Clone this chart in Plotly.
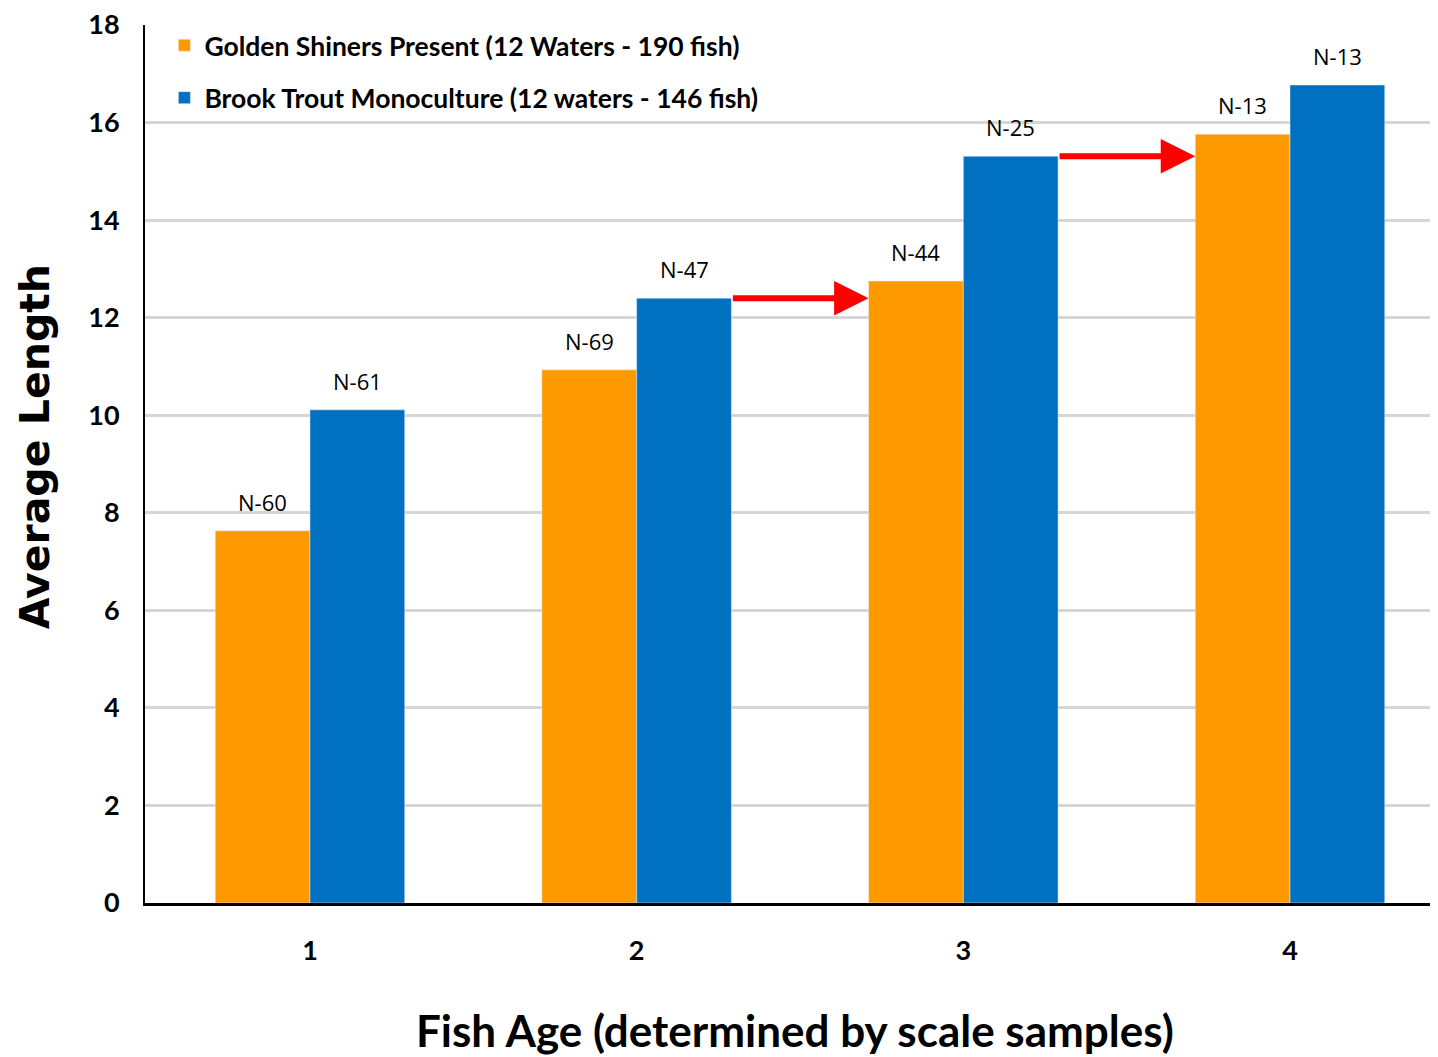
import plotly.graph_objects as go

ages = ["1", "2", "3", "4"]
golden = [7.63, 10.93, 12.75, 15.76]
brook = [10.11, 12.40, 15.31, 16.77]
golden_n = ["N-60", "N-69", "N-44", "N-13"]
brook_n = ["N-61", "N-47", "N-25", "N-13"]
y_ticks = [0, 2, 4, 6, 8, 10, 12, 14, 16, 18]

ORANGE = "#FF9900"
BLUE = "#0070C0"
TXT_FONT = "Lato"
BAR_OFF = 0.145

fig = go.Figure()
fig.add_trace(go.Bar(
    x=ages, y=golden, name="Golden Shiners Present (12 Waters - 190 fish)",
    marker_color=ORANGE, legendgroup="a",
))
fig.add_trace(go.Bar(
    x=ages, y=brook, name="Brook Trout Monoculture (12 waters - 146 fish)",
    marker_color=BLUE, legendgroup="b",
))

# N labels above bars
for i in range(len(ages)):
    for val, lab, off in ((golden[i], golden_n[i], -BAR_OFF), (brook[i], brook_n[i], BAR_OFF)):
        fig.add_annotation(
            x=i + off, y=val, xref="x", yref="y", text=lab, showarrow=False,
            yanchor="bottom", yshift=12,
            font=dict(family="Open Sans", size=22, color="black"),
        )

# red arrows: from blue bar top of age i to orange bar of age i+1
for i in (1, 2):
    yv = brook[i]
    fig.add_annotation(
        x=i + 0.71, y=yv, ax=i + 0.29, ay=yv,
        xref="x", yref="y", axref="x", ayref="y",
        showarrow=True, arrowhead=2, arrowsize=1.15, arrowwidth=6,
        arrowcolor="#FF0000", text="",
    )

# axis titles
fig.add_annotation(
    text="Average Length", textangle=-90, showarrow=False,
    xref="paper", yref="paper", x=(27 - 137) / 1293, y=0.519,
    xanchor="center", yanchor="middle",
    font=dict(family="DejaVu Sans", size=41, color="black", weight="bold"),
)
fig.add_annotation(
    text="Fish Age (determined by scale samples)", showarrow=False,
    xref="paper", yref="paper", x=0.503, y=-0.1446,
    xanchor="center", yanchor="middle",
    font=dict(family=TXT_FONT, size=44, color="black", weight="bold"),
)

fig.update_layout(
    width=1430, height=1049,
    margin=dict(l=137, r=0, t=17, b=154),
    plot_bgcolor="white", paper_bgcolor="white",
    barmode="group", bargap=0.42, bargroupgap=0,
    showlegend=True,
    legend=dict(
        x=0.015, y=1.004, xanchor="left", yanchor="top",
        font=dict(family=TXT_FONT, size=26.5, color="black", weight="bold"),
        bgcolor="rgba(0,0,0,0)", tracegroupgap=15,
        itemwidth=30,
    ),
    font=dict(family=TXT_FONT, color="black"),
)
fig.update_xaxes(
    type="category", range=[-0.505, 3.453], automargin=False,
    showline=True, linecolor="black", linewidth=3,
    ticks="", tickfont=dict(family=TXT_FONT, size=27, color="black", weight="bold"),
    ticklabelstandoff=22, ticklabeloverflow="allow",
)
fig.update_yaxes(
    range=[0, 18], tickvals=y_ticks, automargin=False,
    showgrid=True, gridcolor="#D6D6D6", gridwidth=3,
    showline=True, linecolor="black", linewidth=2,
    zeroline=False, ticks="",
    tickfont=dict(family=TXT_FONT, size=27, color="black", weight="bold"),
    ticklabelstandoff=18, ticklabeloverflow="allow",
)

fig.write_html("out.html")
